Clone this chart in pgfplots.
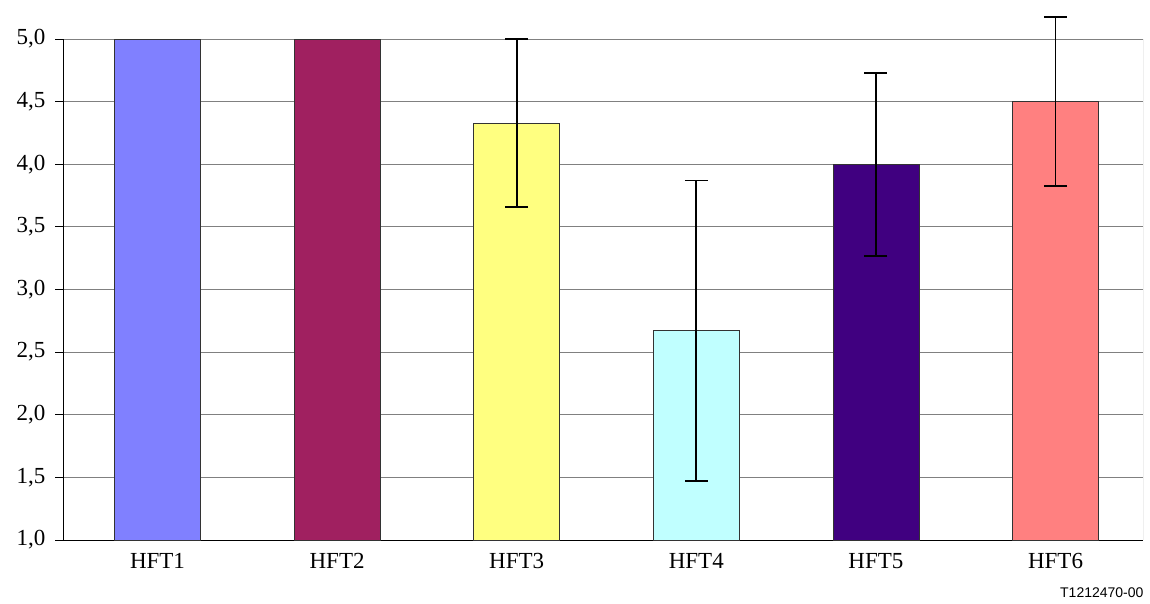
\documentclass[border=0pt]{standalone}
\usepackage{pgfplots}
\pgfplotsset{compat=1.18}
\usepackage{fontspec}
\setmainfont{Liberation Serif}
\newfontfamily\arialfont{Liberation Sans}
\definecolor{c1}{HTML}{8080FF}
\definecolor{c2}{HTML}{A02060}
\definecolor{c3}{HTML}{FFFF80}
\definecolor{c4}{HTML}{C0FFFF}
\definecolor{c5}{HTML}{400080}
\definecolor{c6}{HTML}{FF8080}
\definecolor{gridgray}{HTML}{808080}
\begin{document}
\begin{tikzpicture}
\path[use as bounding box] (0pt,0pt) rectangle (1150pt,603pt);
\pgfplotsset{
  common/.style={
    at={(63pt,63pt)}, anchor=south west,
    scale only axis, width=1080pt, height=501pt,
    xmin=-0.526, xmax=5.487, ymin=1, ymax=5,
  }
}
\begin{axis}[common,
  ybar, bar width=86pt,
  axis lines=left, axis line style={-, black, line width=1pt},
  xtick={0,1,2,3,4,5},
  xticklabels={HFT1,HFT2,HFT3,HFT4,HFT5,HFT6},
  x tick style={draw=none},
  ytick={1,1.5,2,2.5,3,3.5,4,4.5,5},
  y tick style={black, line width=1pt},
  tick align=outside, major tick length=8pt,
  yticklabel style={xshift=-6pt, /pgf/number format/.cd, use comma, fixed, fixed zerofill, precision=1, assume math mode=true},
  ticklabel style={font=\fontsize{23}{23}\selectfont},
  ymajorgrids, major grid style={draw=gridgray, line width=1pt},
  xticklabel style={yshift=-2pt, text height=15pt, text depth=0pt},
]
\addplot[fill=c1, draw=black!80, line width=0.8pt, bar shift=0pt] coordinates {(0,5.0)};
\addplot[fill=c2, draw=black!80, line width=0.8pt, bar shift=0pt] coordinates {(1,5.0)};
\addplot[fill=c3, draw=black!80, line width=0.8pt, bar shift=0pt] coordinates {(2,4.33)};
\addplot[fill=c4, draw=black!80, line width=0.8pt, bar shift=0pt] coordinates {(3,2.67)};
\addplot[fill=c5, draw=black!80, line width=0.8pt, bar shift=0pt] coordinates {(4,4.0)};
\addplot[fill=c6, draw=black!80, line width=0.8pt, bar shift=0pt] coordinates {(5,4.5)};
\draw[gridgray, line width=1pt] (rel axis cs:1,0) -- (rel axis cs:1,1);
\end{axis}
\begin{axis}[common, hide axis, clip=false]
\addplot[draw=none, mark=none,
  error bars/.cd, y dir=both, y explicit,
  error bar style={draw=black, line width=1.8pt},
  error mark options={draw=black, rotate=90, mark size=11.5pt, line width=1.8pt}]
  coordinates {
    (2,4.33) +- (0,0.67)
    (3,2.67) +- (0,1.20)
    (4,4.00) +- (0,0.73)
    (5,4.50) +- (0,0.675)
  };
\end{axis}
\node[anchor=base east, font=\arialfont\fontsize{14}{14}\selectfont] at (1147pt,6pt) {T1212470-00};
\end{tikzpicture}
\end{document}
